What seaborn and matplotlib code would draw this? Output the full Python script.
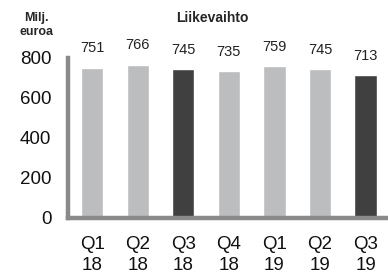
import matplotlib
matplotlib.use("Agg")
import matplotlib.pyplot as plt
import seaborn as sns
import pandas as pd

quarters = ["Q1\n18", "Q2\n18", "Q3\n18", "Q4\n18", "Q1\n19", "Q2\n19", "Q3\n19"]
revenue = [751, 766, 745, 735, 759, 745, 713]
bar_colors = ["#bcbdbf", "#bcbdbf", "#404040", "#bcbdbf", "#bcbdbf", "#bcbdbf", "#404040"]
yticks = [0, 200, 400, 600, 800]

sns.set_style("white")
plt.rcParams['font.family'] = ['Liberation Sans', 'DejaVu Sans']

df = pd.DataFrame({'quarter': quarters, 'revenue': revenue})

fig = plt.figure(figsize=(3.88, 2.76), dpi=100)
ax = fig.add_axes([68 / 388, 1 - 218 / 276, 1 - 68 / 388, (218 - 58) / 276])

sns.barplot(data=df, x='quarter', y='revenue', hue='quarter',
            palette=bar_colors, legend=False, width=0.49, ax=ax,
            saturation=1)

for i, v in enumerate(revenue):
    ax.annotate(str(v), (i, v), xytext=(0, 14), textcoords='offset points',
                ha='center', va='center', fontsize=10.5, color='#222222',
                annotation_clip=False)

ax.set_ylim(0, 800)
ax.set_xlim(-0.53, 6.49)
ax.set_yticks(yticks)
ax.set_yticklabels([str(t) for t in yticks], fontsize=13.5, color='#111111')
ax.set_xticks(range(len(quarters)))
ax.set_xticklabels(quarters, fontsize=13.5, color='#111111', linespacing=1.3)
ax.tick_params(axis='y', length=0, pad=12)
ax.tick_params(axis='x', length=0, pad=13)
ax.set_xlabel('')
ax.set_ylabel('')

for side in ['top', 'right']:
    ax.spines[side].set_visible(False)
for side in ['left', 'bottom']:
    ax.spines[side].set_color('#8a8a8a')
    ax.spines[side].set_linewidth(3.2)

fig.text(212 / 388, 1 - 18 / 276, 'Liikevaihto', ha='center', va='center',
         fontsize=10, fontweight='bold')
fig.text(36 / 388, 1 - 25 / 276, 'Milj.\neuroa', ha='center', va='center',
         fontsize=9, fontweight='bold', linespacing=1.25)

fig.savefig('out.png', dpi=100)
